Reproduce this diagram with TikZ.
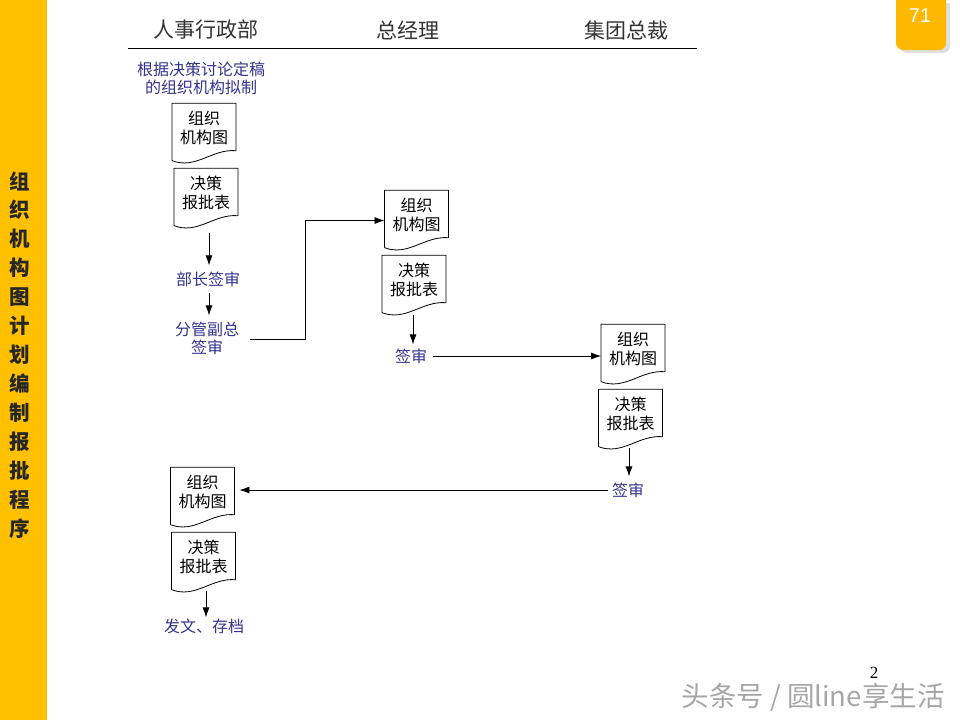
\documentclass[tikz,border=0pt]{standalone}
\usepackage{fontspec}
\setmainfont{Noto Sans CJK SC}
\newfontfamily\latinserif{Liberation Serif}
\newfontfamily\latinsans{Liberation Sans}
\usepackage{tikz}
\usetikzlibrary{arrows.meta,shadows}
\definecolor{bargold}{RGB}{255,192,0}
\definecolor{tabgold}{RGB}{255,184,0}
\definecolor{flowblue}{RGB}{51,51,140}
\tikzset{
  docbox/.style={minimum width=63.5pt,minimum height=60pt,inner sep=0pt,text depth=13pt,align=center,font=\fontsize{16}{19}\selectfont},
  flowlabel/.style={color=flowblue,inner sep=6pt,align=center,font=\fontsize{16}{18}\selectfont},
  headlabel/.style={color=black!80,font=\fontsize{21}{24}\selectfont},
  flowarrow/.style={-{Latex[length=10pt,width=7pt]},color=black,line width=0.8pt}
}
%a sheet with a wavy lower edge, drawn around a node
\newcommand{\wavedoc}[4]{
  \node[docbox] (#1) at (#2,#3) {#4};
  \draw[line width=0.8pt,line join=round] (#1.south west) ++(0pt,3pt) -- (#1.north west) -- (#1.north east)
    -- ([yshift=13pt]#1.south east)
    .. controls ([xshift=-24pt,yshift=15pt]#1.south east) and ([xshift=24pt,yshift=-6pt]#1.south west) .. ([yshift=3pt]#1.south west);
}
\begin{document}
\begin{tikzpicture}[x=1pt,y=-1pt]
\useasboundingbox (0,0) rectangle (960,720);

%left bar with the vertical title
\fill[bargold] (0,0) rectangle (47,720);
\foreach \ch [count=\i] in {组,织,机,构,图,计,划,编,制,报,批,程,序}
  \node[inner sep=0pt,font=\fontsize{20.5}{24}\selectfont\bfseries,color=black!85] (title\i) at (20,{152+29*\i}) {\ch};

%page tab
\fill[tabgold,rounded corners=7pt,drop shadow={shadow xshift=4pt,shadow yshift=-3pt,fill=black!25}]
  (896,0) -- (896,50) -- (946,50) -- (946,0);
\node[color=white,inner sep=0pt,font=\fontsize{20}{24}\selectfont\latinsans] (tabno) at (920,16) {71};

%column heads
\node[headlabel] (headA) at (205.5,30) {人事行政部};
\node[headlabel] (headB) at (408,30) {总经理};
\node[headlabel] (headC) at (626,30) {集团总裁};
\coordinate (ruleL) at (128,48);
\coordinate (ruleR) at (697,48);
\draw[line width=0.8pt] (ruleL) -- (ruleR);

%first column
\node[flowlabel] (draftnote) at (201,78) {根据决策讨论定稿\\的组织机构拟制};
\wavedoc{orgA}{204}{133.5}{组织\\机构图}
\wavedoc{repA}{206}{198.5}{决策\\报批表}
\node[flowlabel] (signDept) at (208,279) {部长签审};
\node[flowlabel] (signVice) at (207,338) {分管副总\\签审};

%second column
\wavedoc{orgB}{416.5}{220.5}{组织\\机构图}
\wavedoc{repB}{414}{285.5}{决策\\报批表}
\node[flowlabel] (signGM) at (411,356) {签审};

%third column
\wavedoc{orgC}{633}{354.5}{组织\\机构图}
\wavedoc{repC}{630.5}{419.5}{决策\\报批表}
\node[flowlabel] (signCEO) at (628,490) {签审};

%back in the first column
\wavedoc{orgD}{202.5}{497.5}{组织\\机构图}
\wavedoc{repD}{203.5}{562.5}{决策\\报批表}
\node[flowlabel] (archive) at (204,626) {发文、存档};

%connectors
\draw[flowarrow,shorten <=4pt] ([xshift=1pt]signDept.north |- repA.south) -- ([xshift=1pt]signDept.north);
\draw[flowarrow] ([xshift=1pt]signDept.south) -- ([xshift=1pt]signDept.south |- signVice.north);
\draw[flowarrow] ([xshift=5pt,yshift=-1pt]signVice.east) -- ++(55pt,0pt) |- (orgB.west);
\draw[flowarrow] ([xshift=2pt,yshift=1pt]signGM.north |- repB.south) -- ([xshift=2pt,yshift=-2pt]signGM.north);
\draw[flowarrow] (signGM.east) -- (signGM.east -| orgC.west);
\draw[flowarrow] ([xshift=1pt,yshift=2pt]signCEO.north |- repC.south) -- ([xshift=1pt]signCEO.north);
\draw[flowarrow] ([xshift=2pt]signCEO.west) -- ([xshift=5pt]signCEO.west -| orgD.east);
\draw[flowarrow] ([xshift=2pt,yshift=2pt]archive.north |- repD.south) -- ([xshift=2pt,yshift=-5pt]archive.north);

%page number and watermark
\node[inner sep=0pt,font=\fontsize{17}{20}\selectfont\latinserif] (pageno) at (874,673) {2};
\node[color=black!35,inner sep=0pt,font=\fontsize{27.5}{30}\selectfont] (mark) at (813,697) {头条号 / 圆line享生活};
\end{tikzpicture}
\end{document}
